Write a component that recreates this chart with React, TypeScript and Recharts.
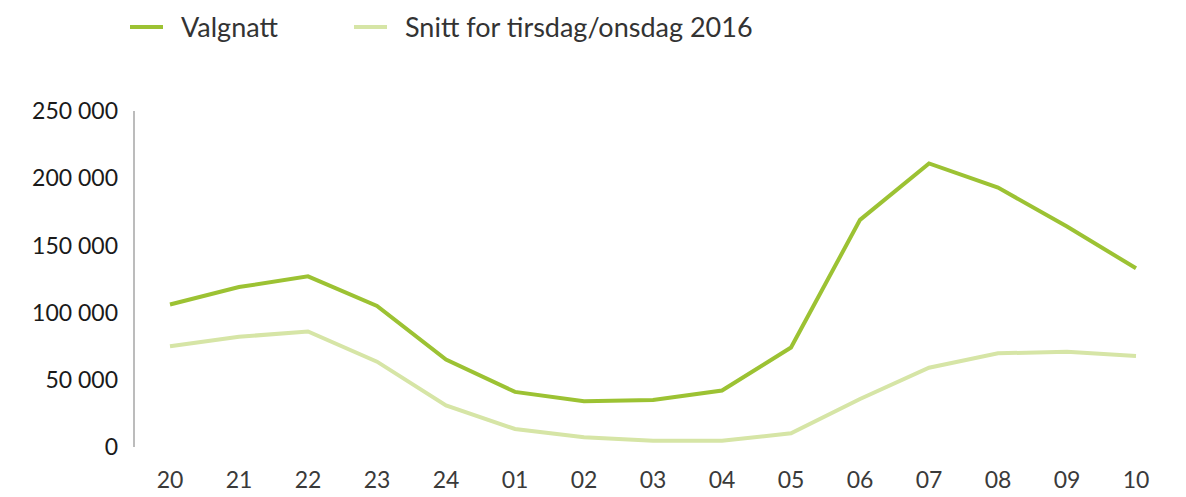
import React from "react";
import { LineChart, Line, XAxis, YAxis, Legend } from "recharts";

const hours = ["20", "21", "22", "23", "24", "01", "02", "03", "04", "05", "06", "07", "08", "09", "10"];
const valgnatt = [106000, 119000, 127000, 105000, 65000, 41000, 34000, 35000, 42000, 74000, 169000, 211000, 193000, 164000, 133000];
const snitt = [75000, 82000, 86000, 63500, 31000, 13400, 7200, 4700, 4700, 10200, 35700, 59000, 69700, 70900, 67700];
const yTicks = [0, 50000, 100000, 150000, 200000, 250000];

const seriesNames = { valgnatt: "Valgnatt", snitt: "Snitt for tirsdag/onsdag 2016" };
const colors = { valgnatt: "#9cc233", snitt: "#d6e5a6" };

const data = hours.map((h, i) => ({ hour: h, valgnatt: valgnatt[i], snitt: snitt[i] }));

const fmt = (v: number) => String(v).replace(/\B(?=(\d{3})+(?!\d))/g, " ");

const legendLefts: Record<string, number> = { valgnatt: 130, snitt: 354 };

const LegendContent = (props: any) => {
  const payload = props.payload || [];
  return (
    <div style={{ position: "relative", height: 0 }}>
      {payload.map((p: any, i: number) => (
        <div
          key={i}
          style={{
            position: "absolute",
            left: legendLefts[p.dataKey as string] ?? 130 + i * 224,
            top: 9,
            display: "flex",
            alignItems: "center",
            whiteSpace: "nowrap",
          }}
        >
          <div style={{ width: 33, height: 4, background: p.color, marginRight: 18 }} />
          <span style={{ fontFamily: "Lato", fontSize: 27, color: "#333", lineHeight: "36px" }}>{p.value}</span>
        </div>
      ))}
    </div>
  );
};

export default function App() {
  return (
    <div style={{ position: "absolute", left: 0, top: 0, background: "#fff" }}>
      <LineChart width={1186} height={497} data={data} margin={{ top: 111, right: 15, bottom: 0, left: 0 }}>
        <Legend
          verticalAlign="top"
          align="left"
          content={<LegendContent />}
          wrapperStyle={{ position: "absolute", top: 0, left: 0, width: 1186, height: 0 }}
        />
        <XAxis
          dataKey="hour"
          axisLine={false}
          tickLine={false}
          tickSize={6}
          tickMargin={19}
          height={50}
          padding={{ left: 36, right: 35 }}
          interval={0}
          tick={{ fontFamily: "Lato", fontSize: 23, fill: "#3a3a3a" }}
        />
        <YAxis
          width={134}
          domain={[0, 250000]}
          ticks={yTicks}
          tickFormatter={fmt}
          axisLine={{ stroke: "#a6a6a6", strokeWidth: 1.5 }}
          tickLine={false}
          tickSize={6}
          tickMargin={10}
          interval={0}
          tick={{ fontFamily: "Lato", fontSize: 23, fill: "#1a1a1a" }}
        />
        <Line
          type="linear"
          dataKey="valgnatt"
          name={seriesNames.valgnatt}
          stroke={colors.valgnatt}
          strokeWidth={4}
          dot={false}
          isAnimationActive={false}
        />
        <Line
          type="linear"
          dataKey="snitt"
          name={seriesNames.snitt}
          stroke={colors.snitt}
          strokeWidth={4}
          dot={false}
          isAnimationActive={false}
        />
      </LineChart>
    </div>
  );
}
